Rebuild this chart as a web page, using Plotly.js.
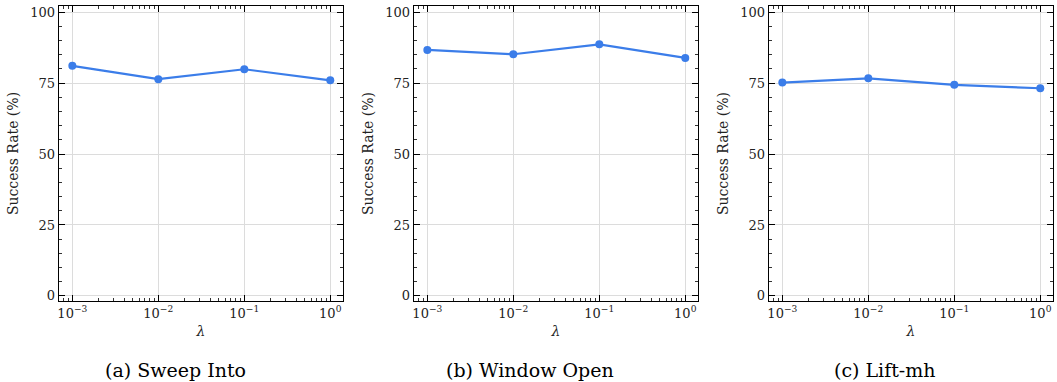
<!DOCTYPE html>
<html>
<head>
<meta charset="utf-8">
<script src="https://cdn.plot.ly/plotly-3.0.1.min.js"></script>
<style>html,body{margin:0;padding:0;background:#fff;}#chart{width:1057px;height:382px;}</style>
</head>
<body>
<div id="chart"></div>
<script>
const lambdas = [0.001, 0.01, 0.1, 1];
const sweepInto = [81.1, 76.4, 79.9, 76.0];
const windowOpen = [86.7, 85.2, 88.7, 83.9];
const liftMh = [75.2, 76.7, 74.4, 73.2];
const captions = ['(a) Sweep Into', '(b) Window Open', '(c) Lift-mh'];
const xTickVals = [0.001, 0.01, 0.1, 1];
const xTickText = ['10<sup>−3</sup>', '10<sup>−2</sup>', '10<sup>−1</sup>', '10<sup>0</sup>'];
const yTickVals = [0, 25, 50, 75, 100];

const W = 1057, H = 382;
const panels = [[59, 343], [414, 698], [769, 1053]];
const capX = [175, 530, 885];
const series = [sweepInto, windowOpen, liftMh];
const serif = 'DejaVu Serif';
const blue = 'rgb(59,125,233)';

const data = [];
const layout = {
  width: W, height: H,
  margin: {l: 0, r: 0, t: 0, b: 0},
  paper_bgcolor: '#fff', plot_bgcolor: '#fff',
  showlegend: false,
  font: {family: serif, color: '#222', size: 13},
  annotations: []
};
series.forEach((ys, i) => {
  const sx = i === 0 ? '' : String(i + 1);
  data.push({
    x: lambdas, y: ys, type: 'scatter', mode: 'lines+markers',
    xaxis: 'x' + sx, yaxis: 'y' + sx,
    line: {color: blue, width: 2.2},
    marker: {color: blue, size: 8}
  });
  const dom = [panels[i][0] / W, panels[i][1] / W];
  layout['xaxis' + sx] = {
    domain: dom, anchor: 'y' + sx, type: 'log',
    range: [-3.155, 0.148],
    tickvals: xTickVals, ticktext: xTickText,
    ticks: 'inside', ticklen: 6, tickwidth: 1, tickcolor: '#000',
    mirror: 'allticks', showline: true, linecolor: '#000', linewidth: 1.3,
    showgrid: true, gridcolor: '#dcdcdc', gridwidth: 1, zeroline: false,
    minor: {ticks: 'inside', ticklen: 3, tickcolor: '#000', tickwidth: 0.8, dtick: 'D1', showgrid: false},
    tickfont: {family: serif, size: 13, color: '#222'},
    title: {text: '<i>λ</i>', font: {family: serif, size: 14, color: '#222'}, standoff: 6}
  };
  layout['yaxis' + sx] = {
    domain: [1 - 301 / H, 1 - 6 / H], anchor: 'x' + sx,
    range: [-1.8, 102.2],
    tickvals: yTickVals,
    ticks: 'inside', ticklen: 6, tickwidth: 1, tickcolor: '#000',
    mirror: 'allticks', showline: true, linecolor: '#000', linewidth: 1.3,
    showgrid: true, gridcolor: '#dcdcdc', gridwidth: 1, zeroline: false,
    minor: {ticks: 'inside', ticklen: 3, tickcolor: '#000', tickwidth: 0.8, dtick: 5, showgrid: false},
    tickfont: {family: serif, size: 13, color: '#222'},
    title: {text: 'Success Rate (%)', font: {family: serif, size: 14, color: '#222'}, standoff: 8}
  };
  layout.annotations.push({
    text: captions[i], xref: 'paper', yref: 'paper',
    x: capX[i] / W, y: 1 - 370 / H, xanchor: 'center', yanchor: 'middle',
    showarrow: false, font: {family: serif, size: 19, color: '#000'}
  });
});
Plotly.newPlot('chart', data, layout, {displayModeBar: false, staticPlot: true});
</script>
</body>
</html>
